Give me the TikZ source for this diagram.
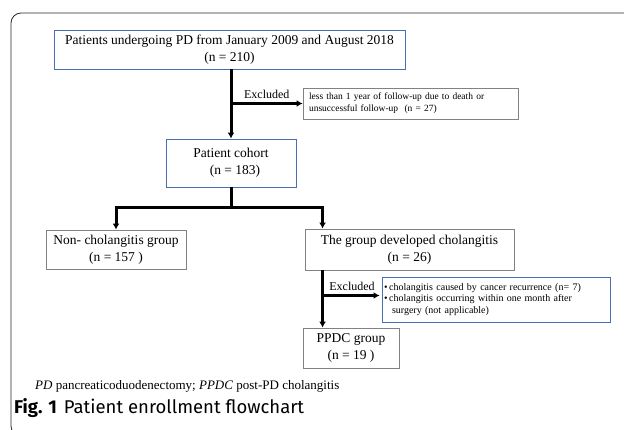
\documentclass[tikz,border=0pt]{standalone}
\usepackage{fontspec}
\setmainfont{Liberation Serif}
\newfontfamily\capfont{Fira Sans}
\usetikzlibrary{arrows.meta}
\definecolor{boxblue}{RGB}{74,110,178}
\definecolor{boxgray}{RGB}{130,130,130}
\definecolor{framegray}{RGB}{40,40,40}

\begin{document}
\begin{tikzpicture}[x=1pt,y=-1pt,
    bluebox/.style={draw=boxblue, line width=0.9pt, inner sep=0pt, align=center, font=\fontsize{13.5}{17}\selectfont},
    graybox/.style={draw=boxgray, line width=0.9pt, inner sep=0pt, align=center, font=\fontsize{13.5}{17}\selectfont},
    flow/.style={line width=3pt, -{Latex[length=6pt,width=7pt]}},
    exlabel/.style={font=\fontsize{12}{14}\selectfont, above=2pt, inner sep=1pt}]

    \useasboundingbox (0,0) rectangle (624,430);
    \clip (0,0) rectangle (624,430);
    \draw[framegray, line width=0.8pt, rounded corners=10pt] (11,13) rectangle (700,436);

    % boxes
    \node[bluebox, minimum width=351pt, minimum height=39pt] (pd) at (229.5,49.5)
        {Patients undergoing PD from January 2009 and August 2018\\(n = 210)};
    \node[graybox, align=left, font=\fontsize{9.5}{12}\selectfont, text width=203pt, inner xsep=6pt, minimum height=31pt] (excl1) at (410.5,103.5)
        {less than 1 year of follow-up due to death or\\unsuccessful follow-up\ \ (n = 27)};
    \node[bluebox, minimum width=130pt, minimum height=48pt] (cohort) at (231,163)
        {Patient cohort\\\hspace*{8pt}(n = 183)};
    \node[graybox, minimum width=140pt, minimum height=39pt] (nonchol) at (116,249.5)
        {Non- cholangitis group\\(n = 157 )};
    \node[graybox, minimum width=209pt, minimum height=41pt] (group) at (409.5,249.5)
        {The group developed cholangitis\\(n = 26)};
    \node[bluebox, align=left, font=\fontsize{10}{11.5}\selectfont, text width=224pt, inner xsep=2pt, minimum height=45pt] (excl2) at (496,299.5)
        {\textbullet\,cholangitis caused by cancer recurrence (n= 7)\\\textbullet\,cholangitis occurring within one month after\\\hspace*{8pt}surgery (not applicable)};
    \node[graybox, minimum width=96pt, minimum height=40pt] (ppdc) at (351,348)
        {PPDC group\\(n = 19 )};

    % connectors
    \draw[flow] (pd.south -| cohort.north) -- (cohort.north);
    \coordinate (ex1) at (cohort.north |- excl1.west);
    \draw[flow] (ex1) -- node[exlabel] {Excluded} (excl1.west);

    \draw[line width=3pt] (cohort.south) -- ++(0,20) coordinate (split);
    \draw[flow] (split) -| (nonchol.north);
    \draw[flow] (split) -| ([xshift=18pt]group.north west);

    \draw[flow] ([xshift=18pt]group.south west) coordinate (g2) -- (g2 |- ppdc.north);
    \coordinate (ex2in) at ([yshift=4pt]excl2.west);
    \draw[flow, shorten >=2pt] (g2 |- ex2in) -- node[exlabel] {Excluded} (ex2in);

    % legend and caption
    \node[anchor=west, inner sep=0pt, font=\fontsize{13}{15}\selectfont] (foot) at (35,386)
        {\textit{PD} pancreaticoduodenectomy; \textit{PPDC} post-PD cholangitis};
    \node[anchor=west, inner sep=0pt, font=\capfont\fontsize{18.5}{21}\selectfont] (cap) at (14,408)
        {\textbf{Fig. 1}\hspace{7pt}Patient enrollment flowchart};

\end{tikzpicture}
\end{document}
